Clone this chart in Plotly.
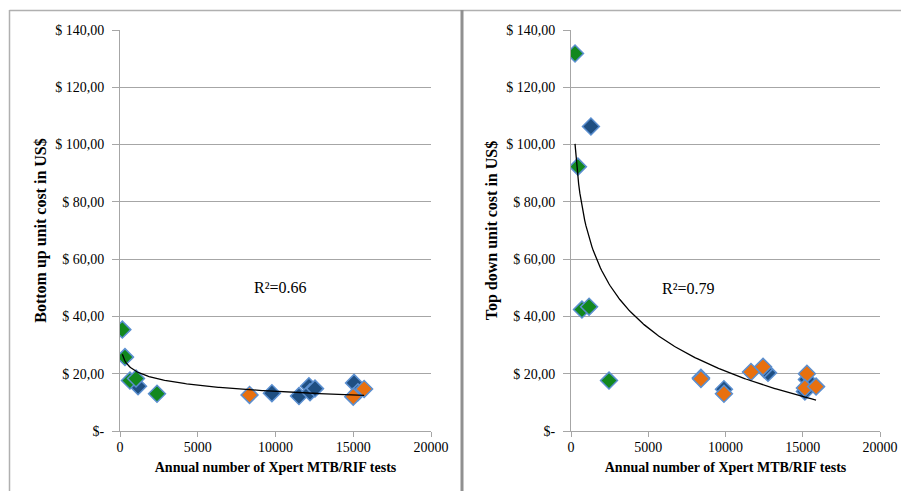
import numpy as np
import plotly.graph_objects as go

# ---- data ----
# Bottom-up unit cost (left panel)
bu_green_x = [150, 320, 640, 1030, 2380]
bu_green_y = [35.4, 25.8, 17.6, 18.3, 13.0]
bu_blue_x = [1160, 9770, 11510, 12150, 12220, 12540, 15050, 15300]
bu_blue_y = [15.6, 13.2, 12.2, 15.6, 13.5, 14.8, 16.8, 13.5]
bu_orange_x = [8330, 15000, 15700]
bu_orange_y = [12.6, 12.0, 14.7]

# Top-down unit cost (right panel)
td_green_x = [260, 450, 710, 1170, 2460]
td_green_y = [131.8, 92.3, 42.4, 43.4, 17.6]
td_blue_x = [1290, 8410, 9900, 12750, 12500, 15270, 15140]
td_blue_y = [106.3, 18.6, 14.6, 20.3, 21.6, 18.0, 13.8]
td_orange_x = [8410, 9900, 11650, 12430, 15270, 15140, 15860]
td_orange_y = [18.2, 13.0, 20.6, 22.4, 20.0, 15.0, 15.5]

r2_left = "R²=0.66"
r2_right = "R²=0.79"

y_ticks = [0, 20, 40, 60, 80, 100, 120, 140]
y_tick_text = ["$-", "$ 20,00", "$ 40,00", "$ 60,00", "$ 80,00", "$ 100,00", "$ 120,00", "$ 140,00"]
x_ticks = [0, 5000, 10000, 15000, 20000]
x_tick_text = ["0", "5000", "10000", "15000", "20000"]

x_title = "Annual number of Xpert MTB/RIF tests"
y_title_left = "Bottom up unit cost in US$"
y_title_right = "Top down unit cost in US$"

GREEN = "#12881e"
BLUE = "#1f4f82"
ORANGE = "#e8700f"
EDGE = "#5b8fd0"

FONT = "Liberation Serif"

fig = go.Figure()


def add_panel(gx, gy, bx, by, ox, oy, xa, ya):
    for xs, ys, c in [(bx, by, BLUE), (gx, gy, GREEN), (ox, oy, ORANGE)]:
        fig.add_trace(go.Scatter(
            x=xs, y=ys, mode="markers", xaxis=xa, yaxis=ya, showlegend=False,
            marker=dict(symbol="diamond", size=13, color=c,
                        line=dict(color=EDGE, width=1.5))))
    # logarithmic trend line fitted to all points
    ax = np.array(gx + bx + ox, dtype=float)
    ay = np.array(gy + by + oy, dtype=float)
    b, a = np.polyfit(np.log(ax), ay, 1)
    tx = np.linspace(ax.min(), ax.max(), 200)
    fig.add_trace(go.Scatter(x=tx, y=a + b * np.log(tx), mode="lines",
                             xaxis=xa, yaxis=ya, showlegend=False,
                             line=dict(color="black", width=1.3)))


add_panel(bu_green_x, bu_green_y, bu_blue_x, bu_blue_y, bu_orange_x, bu_orange_y, "x", "y")
add_panel(td_green_x, td_green_y, td_blue_x, td_blue_y, td_orange_x, td_orange_y, "x2", "y2")

W, H = 901, 491
ydom = [(H - 431) / H, (H - 30) / H]

xcommon = dict(range=[0, 20000], tickvals=x_ticks, ticktext=x_tick_text, automargin=False,
               showgrid=False, zeroline=False, showline=True, linecolor="#a6a6a6",
               linewidth=1, ticks="outside", ticklen=5, tickcolor="#a6a6a6",
               ticklabelstandoff=-2,
               tickfont=dict(family=FONT, size=14, color="black"),
               title=dict(text="<b>" + x_title + "</b>", standoff=8,
                          font=dict(family=FONT, size=14, color="black")))
ycommon = dict(range=[0, 140], tickvals=y_ticks, ticktext=y_tick_text, automargin=False,
               showgrid=True, gridcolor="#a6a6a6", gridwidth=1, zeroline=False,
               showline=True, linecolor="#a6a6a6", linewidth=1,
               ticks="outside", ticklen=7, tickcolor="#a6a6a6",
               ticklabelstandoff=5,
               tickfont=dict(family=FONT, size=14, color="black"))

fig.update_layout(
    width=W, height=H, margin=dict(l=0, r=0, t=0, b=0),
    paper_bgcolor="white", plot_bgcolor="white",
    xaxis=dict(domain=[120 / W, 431 / W], anchor="y", **xcommon),
    yaxis=dict(domain=ydom, anchor="x",
               title=dict(text="<b>" + y_title_left + "</b>", standoff=4,
                          font=dict(family=FONT, size=16, color="black")), **ycommon),
    xaxis2=dict(domain=[571 / W, 880 / W], anchor="y2", **xcommon),
    yaxis2=dict(domain=ydom, anchor="x2",
                title=dict(text="<b>" + y_title_right + "</b>", standoff=4,
                           font=dict(family=FONT, size=16, color="black")), **ycommon),
)

# R² annotations
fig.add_annotation(text=r2_left, x=252 / W, y=(H - 287) / H, xref="paper", yref="paper",
                   showarrow=False, font=dict(family=FONT, size=16, color="black"))
fig.add_annotation(text=r2_right, x=717 / W, y=(H - 288) / H, xref="paper", yref="paper",
                   showarrow=False, font=dict(family=FONT, size=16, color="black"))

# panel borders
fig.add_shape(type="line", xref="paper", yref="paper", x0=9.5 / W, x1=9.5 / W, y0=0, y1=(H - 10) / H,
              line=dict(color="#b0b0b0", width=1.5))
fig.add_shape(type="line", xref="paper", yref="paper", x0=9.5 / W, x1=1, y0=(H - 10.5) / H, y1=(H - 10.5) / H,
              line=dict(color="#b0b0b0", width=1.5))
fig.add_shape(type="line", xref="paper", yref="paper", x0=462 / W, x1=462 / W, y0=0, y1=(H - 10) / H,
              line=dict(color="#909090", width=3))

fig.write_html("out.html", config={"displayModeBar": False},
               post_script="document.body.style.margin='0';document.body.style.overflow='hidden';")
